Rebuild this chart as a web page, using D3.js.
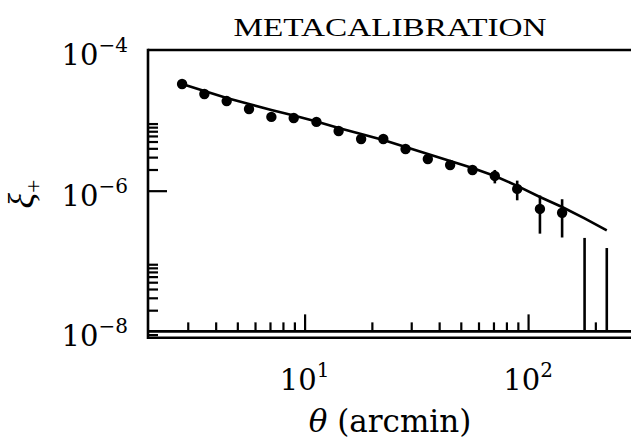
<!DOCTYPE html>
<html><head><meta charset="utf-8">
<script src="https://cdn.jsdelivr.net/npm/d3@7"></script>
<style>body{margin:0;background:#fff}svg{display:block}text{font-family:"Liberation Serif","DejaVu Serif",serif;fill:#000}.dv{font-family:"DejaVu Serif",serif}</style>
</head><body>
<svg id="c" width="631" height="440"></svg>
<script>
// ---- data ----
const theta = [2.83,3.56,4.48,5.64,7.10,8.94,11.3,14.2,17.9,22.5,28.3,35.6,44.8,56.4,71.0,89.4,113,142,179,225];
const xiPlus = [3.29e-5,2.37e-5,1.88e-5,1.45e-5,1.12e-5,1.08e-5,9.5e-6,7.06e-6,5.43e-6,5.43e-6,3.92e-6,2.82e-6,2.32e-6,1.97e-6,1.62e-6,1.06e-6,5.5e-7,4.86e-7,-0.67e-7,-1.07e-7];
const xiErr = [1.0e-6,0.8e-6,0.6e-6,0.5e-6,0.4e-6,0.35e-6,0.3e-6,0.25e-6,0.22e-6,0.2e-6,0.2e-6,0.2e-6,0.25e-6,0.3e-6,0.35e-6,0.33e-6,3.05e-7,2.7e-7,2.8e-7,2.6e-7];
const model = [3.289e-5,2.612e-5,2.080e-5,1.706e-5,1.403e-5,1.172e-5,9.64e-6,7.78e-6,6.40e-6,5.26e-6,4.18e-6,3.33e-6,2.64e-6,2.10e-6,1.62e-6,1.17e-6,8.13e-7,5.86e-7,4.03e-7,2.72e-7];
const xMajor = [10,100];
const xMinor = [3,4,5,6,7,8,9,20,30,40,50,60,70,80,90,200];
const yMajor = [1e-6];
const yMinor = [2e-6,3e-6,4e-6,5e-6,6e-6,7e-6,8e-6,9e-6,2e-8,3e-8,4e-8,5e-8,6e-8,7e-8,8e-8,9e-8,9e-9];
const xLabels = [[10,"1"],[100,"2"]];
const yLabels = [[1e-4,"−4"],[1e-6,"−6"],[1e-8,"−8"]];
const title = "METACALIBRATION";

// ---- layout ----
const svg = d3.select("#c");
const padL = 148, padT = 50;
const x = d3.scaleLog().domain([2,300]).range([148.4,634.7]);
const y = d3.scaleLog().domain([8.1e-9,1e-4]).range([337.8,50]);
const bottomY = y.range()[0];
const base = y(1e-8);
const lw = 2.6;

const g = svg.append("g");

function xAxis(vals, size){
  const a = d3.axisTop(x).tickValues(vals).tickSize(size).tickSizeOuter(0).tickFormat("");
  const gg = g.append("g").attr("transform",`translate(0,${base})`).call(a);
  gg.select(".domain").remove();
  gg.selectAll("line").attr("stroke","#000").attr("stroke-width",2.2);
}
xAxis(xMajor,17); xAxis(xMinor,9);

function yAxis(vals,size){
  const a = d3.axisRight(y).tickValues(vals).tickSize(size).tickSizeOuter(0).tickFormat("");
  const gg = g.append("g").attr("transform",`translate(${padL},0)`).call(a);
  gg.select(".domain").remove();
  gg.selectAll("line").attr("stroke","#000").attr("stroke-width",2.2);
}
yAxis(yMajor,19); yAxis(yMinor,10);

// spines
g.append("line").attr("x1",padL).attr("x2",640).attr("y1",padT).attr("y2",padT).attr("stroke","#000").attr("stroke-width",lw);
g.append("line").attr("x1",padL).attr("x2",padL).attr("y1",padT-1.3).attr("y2",bottomY+1.3).attr("stroke","#000").attr("stroke-width",lw);
g.append("line").attr("x1",padL).attr("x2",640).attr("y1",bottomY).attr("y2",bottomY).attr("stroke","#000").attr("stroke-width",lw);
g.append("line").attr("x1",padL).attr("x2",640).attr("y1",base).attr("y2",base).attr("stroke","#000").attr("stroke-width",lw);

// model line
const mdl = theta.map((t,i)=>[t,model[i]]);
g.append("path").datum(mdl)
 .attr("d",d3.line().x(d=>x(d[0])).y(d=>y(d[1])))
 .attr("fill","none").attr("stroke","#000").attr("stroke-width",2.6);

// error bars
const pts = theta.map((t,i)=>({t,v:xiPlus[i],e:xiErr[i]}));
g.selectAll(".eb").data(pts).join("line")
 .attr("x1",d=>x(d.t)).attr("x2",d=>x(d.t))
 .attr("y1",d=>y(d.v+d.e))
 .attr("y2",d=>d.v-d.e>1e-8? y(d.v-d.e): base)
 .attr("stroke","#000").attr("stroke-width",2.6);

// points
g.selectAll(".pt").data(pts.filter(d=>d.v>0)).join("circle")
 .attr("cx",d=>x(d.t)).attr("cy",d=>y(d.v)).attr("r",5.2).attr("fill","#000");

// y tick labels
yLabels.forEach(([v,s])=>{
  const t = svg.append("text").attr("class","dv").attr("x",128).attr("y",y(v)+15).attr("text-anchor","end").style("font-size","29px");
  t.append("tspan").text("10");
  t.append("tspan").attr("dy",-13).style("font-size","20px").text(s);
});
// x tick labels
xLabels.forEach(([v,s])=>{
  const t = svg.append("text").attr("class","dv").attr("x",x(v)).attr("y",390).attr("text-anchor","middle").style("font-size","29px");
  t.append("tspan").text("10");
  t.append("tspan").attr("dy",-13).style("font-size","20px").text(s);
});

const xl = svg.append("text").attr("class","dv").attr("x",390).attr("y",432).attr("text-anchor","middle").style("font-size","31px");
xl.append("tspan").style("font-style","italic").text("θ");
xl.append("tspan").text(" (arcmin)");

const yl = svg.append("text").attr("transform","translate(33,194) rotate(-90)").attr("text-anchor","middle").style("font-size","36px");
yl.append("tspan").style("font-style","italic").text("ξ");
yl.append("tspan").attr("dy",8).style("font-size","24px").text("+");

svg.append("text").attr("x",390).attr("y",36).attr("text-anchor","middle").style("font-size","25px")
 .attr("textLength",313).attr("lengthAdjust","spacingAndGlyphs").text(title);
</script>
</body></html>
